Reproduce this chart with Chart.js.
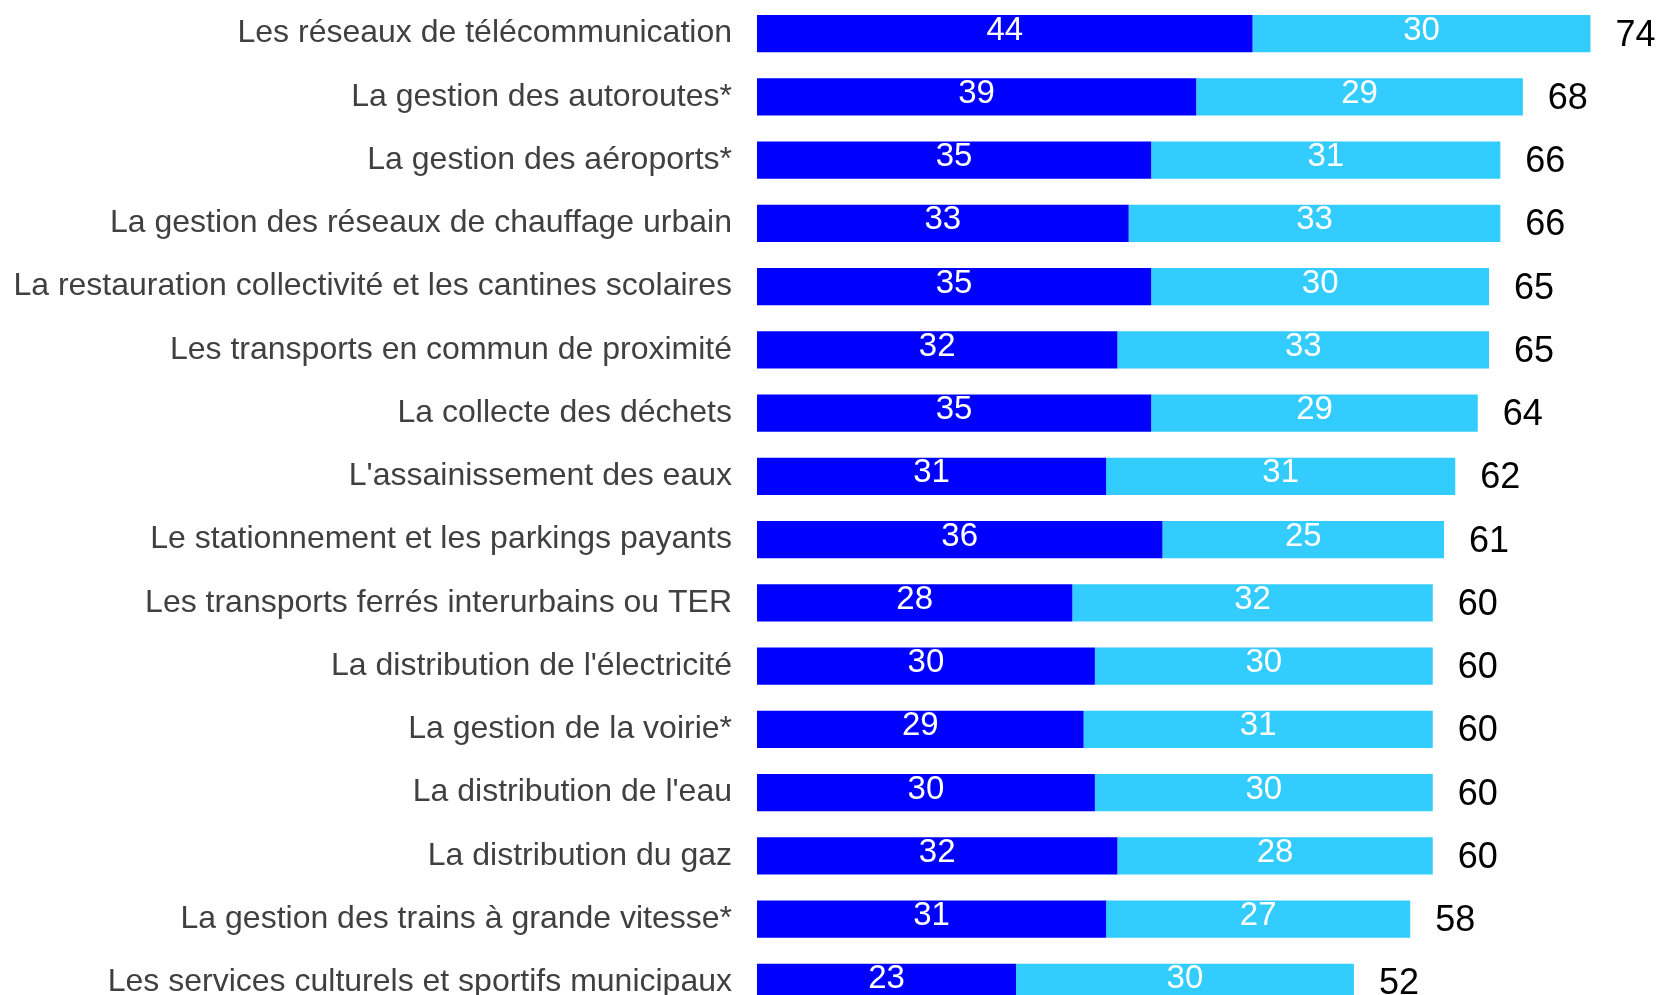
<!DOCTYPE html>
<html>
<head>
<meta charset="utf-8">
<script src="https://cdn.jsdelivr.net/npm/chart.js@4/dist/chart.umd.min.js"></script>
<style>
  html, body { margin: 0; padding: 0; background: #fff; overflow: hidden; }
  #wrap { width: 1661px; height: 1014px; position: relative; }
</style>
</head>
<body>
<div id="wrap"><canvas id="bars"></canvas></div>
<script>
const categories = [
  'Les réseaux de télécommunication',
  'La gestion des autoroutes*',
  'La gestion des aéroports*',
  'La gestion des réseaux de chauffage urbain',
  'La restauration collectivité et les cantines scolaires',
  'Les transports en commun de proximité',
  'La collecte des déchets',
  "L'assainissement des eaux",
  'Le stationnement et les parkings payants',
  'Les transports ferrés interurbains ou TER',
  "La distribution de l'électricité",
  'La gestion de la voirie*',
  "La distribution de l'eau",
  'La distribution du gaz',
  'La gestion des trains à grande vitesse*',
  'Les services culturels et sportifs municipaux'
]
const darkValues = [44, 39, 35, 33, 35, 32, 35, 31, 36, 28, 30, 29, 30, 32, 31, 23]
const lightValues = [30, 29, 31, 33, 30, 33, 29, 31, 25, 32, 30, 31, 30, 28, 27, 30]
const totals = [74, 68, 66, 66, 65, 65, 64, 62, 61, 60, 60, 60, 60, 60, 58, 52]

const FONT = '"Liberation Sans", Arial, sans-serif'

// numbers inside the bars + totals at the end
const barLabels = {
  id: 'barLabels',
  afterDatasetsDraw(chart) {
    const ctx = chart.ctx
    ctx.save()
    ctx.textBaseline = 'middle'
    chart.data.datasets.forEach((ds, di) => {
      const meta = chart.getDatasetMeta(di)
      meta.data.forEach((bar, i) => {
        ctx.fillStyle = '#ffffff'
        ctx.font = '33px ' + FONT
        ctx.textAlign = 'center'
        ctx.fillText(String(ds.data[i]), (bar.x + bar.base) / 2, bar.y - 3)
        if (di === chart.data.datasets.length - 1) {
          ctx.fillStyle = '#000000'
          ctx.font = '36px ' + FONT
          ctx.textAlign = 'left'
          ctx.fillText(String(totals[i]), bar.x + 25, bar.y + 2)
        }
      })
    })
    ctx.restore()
  }
}

const ctx = document.getElementById('bars')
new Chart(ctx, {
  type: 'bar',
  data: {
    labels: categories,
    datasets: [
      {
        label: 'dark',
        data: darkValues,
        backgroundColor: '#0000FF',
        borderWidth: 0,
        barPercentage: 0.585,
        categoryPercentage: 1
      },
      {
        label: 'light',
        data: lightValues,
        backgroundColor: '#33CCFF',
        borderWidth: 0,
        barPercentage: 0.585,
        categoryPercentage: 1
      }
    ]
  },
  options: {
    indexAxis: 'y',
    responsive: true,
    maintainAspectRatio: false,
    animation: false,
    layout: { padding: { top: 2, right: 3, bottom: 0, left: 0 } },
    plugins: {
      legend: { display: false },
      tooltip: { enabled: false }
    },
    scales: {
      x: {
        stacked: true,
        display: false,
        min: 0,
        max: 80
      },
      y: {
        stacked: true,
        grid: { display: false, drawTicks: false },
        border: { display: false },
        ticks: {
          autoSkip: false,
          padding: 25,
          color: '#404040',
          font: { family: FONT, size: 32 }
        },
        afterFit(scale) {
          scale.width = 757
          // the tick padding would otherwise shrink the chart area top/bottom
          scale.paddingTop = 0
          scale.paddingBottom = 0
        }
      }
    }
  },
  plugins: [barLabels]
})
</script>
</body>
</html>
